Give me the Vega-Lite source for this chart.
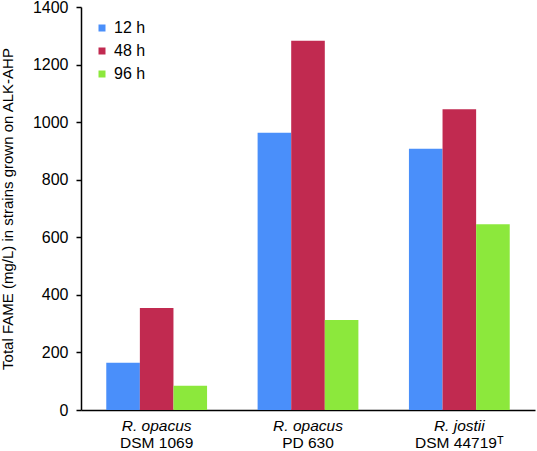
{
  "$schema": "https://vega.github.io/schema/vega-lite/v6.json",
  "autosize": "none",
  "width": 454,
  "height": 403,
  "padding": {"left": 81, "top": 7, "right": 2, "bottom": 41},
  "background": "white",
  "config": {
    "view": {"stroke": null},
    "font": "Liberation Sans",
    "axis": {"domainColor": "black", "tickColor": "black", "labelColor": "black", "titleColor": "black", "grid": false, "domainWidth": 1.5, "tickWidth": 1.5}
  },
  "data": {
    "values": [
      {"strain": "R. opacus|DSM 1069", "time": "12 h", "fame": 164},
      {"strain": "R. opacus|DSM 1069", "time": "48 h", "fame": 354},
      {"strain": "R. opacus|DSM 1069", "time": "96 h", "fame": 84},
      {"strain": "R. opacus|PD 630", "time": "12 h", "fame": 963},
      {"strain": "R. opacus|PD 630", "time": "48 h", "fame": 1283},
      {"strain": "R. opacus|PD 630", "time": "96 h", "fame": 313},
      {"strain": "R. jostii|DSM 44719ᵀ", "time": "12 h", "fame": 908},
      {"strain": "R. jostii|DSM 44719ᵀ", "time": "48 h", "fame": 1045},
      {"strain": "R. jostii|DSM 44719ᵀ", "time": "96 h", "fame": 645}
    ]
  },
  "layer": [
    {
      "mark": {"type": "bar"},
      "encoding": {
        "x": {
          "field": "strain", "type": "nominal", "sort": null,
          "scale": {"paddingInner": 0.334, "paddingOuter": 0.167},
          "axis": {
            "orient": "bottom", "title": null, "ticks": false, "labelAngle": 0,
            "labelExpr": "split(datum.label, '|')[0]",
            "labelFontStyle": "italic", "labelFontSize": 15.5, "labelPadding": 8
          }
        },
        "xOffset": {"field": "time", "type": "nominal", "sort": null},
        "y": {
          "field": "fame", "type": "quantitative",
          "scale": {"domain": [0, 1400], "nice": false},
          "axis": {
            "values": [0, 200, 400, 600, 800, 1000, 1200, 1400],
            "format": "d",
            "title": "Total FAME (mg/L) in strains grown on ALK-AHP",
            "titleFontSize": 15, "titleFontWeight": "normal", "titlePadding": 17,
            "labelFontSize": 16, "tickSize": 5, "labelPadding": 8
          }
        },
        "color": {
          "field": "time", "type": "nominal", "sort": null,
          "scale": {"domain": ["12 h", "48 h", "96 h"], "range": ["#4a8ffa", "#c12a50", "#8ce83c"]},
          "legend": {
            "title": null, "orient": "none", "legendX": 13, "legendY": 13,
            "symbolType": "square", "symbolSize": 49, "labelFontSize": 16,
            "rowPadding": 7, "labelOffset": 4, "padding": 0, "symbolStrokeWidth": 0
          }
        }
      }
    },
    {
      "mark": {"type": "bar", "opacity": 0},
      "encoding": {
        "x": {
          "field": "strain", "type": "nominal", "sort": null,
          "axis": {
            "orient": "bottom", "title": null, "ticks": false, "domain": false, "labelAngle": 0,
            "labelExpr": "split(datum.label, '|')[1]",
            "labelFontSize": 15.5, "labelPadding": 25
          }
        }
      }
    }
  ],
  "resolve": {"axis": {"x": "independent"}}
}
